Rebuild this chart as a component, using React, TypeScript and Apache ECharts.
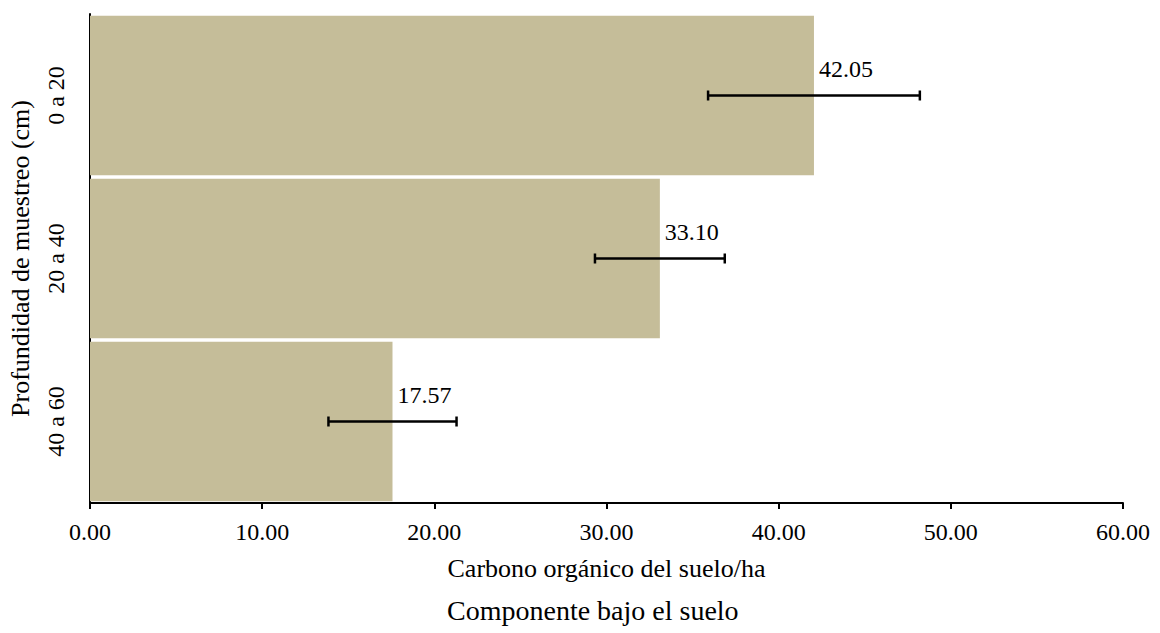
import React, { useEffect, useRef } from "react";
import * as echarts from "echarts";

const categories = ["0 a 20", "20 a 40", "40 a 60"];
const values = [42.05, 33.1, 17.57];
const errors = [6.15, 3.77, 3.72];
const xTicks = { min: 0, max: 60, interval: 10 };

const FONT = "Liberation Serif";
const FS = 24;
const NAME_FS = 26;

export default function App() {
  const ref = useRef<HTMLDivElement>(null);
  useEffect(() => {
    if (!ref.current) return;
    const chart = echarts.init(ref.current, undefined, { renderer: "svg" });
    const errData = values.map((v, i) => [v - errors[i], v + errors[i], i]);
    chart.setOption({
      animation: false,
      textStyle: { fontFamily: FONT },
      grid: {
        left: 90,
        right: 37,
        top: 14,
        bottom: 130,
        containLabel: false,
        outerBoundsMode: "none",
      },
      xAxis: {
        type: "value",
        min: xTicks.min,
        max: xTicks.max,
        interval: xTicks.interval,
        name: "Carbono orgánico del suelo/ha",
        nameLocation: "middle",
        nameGap: 52,
        nameTextStyle: { fontFamily: FONT, fontSize: NAME_FS, color: "#000" },
        axisLine: { show: true, lineStyle: { color: "#000", width: 2 } },
        axisTick: { show: true, length: 6, lineStyle: { color: "#000", width: 2 } },
        axisLabel: {
          fontFamily: FONT,
          fontSize: FS,
          color: "#000",
          margin: 17,
          formatter: (v: number) => v.toFixed(2),
        },
        splitLine: { show: false },
      },
      yAxis: {
        type: "category",
        data: categories,
        inverse: true,
        name: "Profundidad de muestreo (cm)",
        nameLocation: "middle",
        nameGap: 57,
        nameRotate: 90,
        nameTextStyle: { fontFamily: FONT, fontSize: NAME_FS, color: "#000" },
        axisLine: { show: true, lineStyle: { color: "#000", width: 2 } },
        axisTick: { show: false },
        axisLabel: {
          rotate: 90,
          fontFamily: FONT,
          fontSize: FS,
          color: "#000",
          margin: 34,
          verticalAlign: "middle",
        },
      },
      graphic: [
        {
          type: "text",
          left: 447,
          top: 596,
          style: {
            text: "Componente bajo el suelo",
            fontFamily: FONT,
            fontSize: 28,
            fill: "#000",
          },
        },
      ],
      series: [
        {
          type: "bar",
          data: values,
          barCategoryGap: "2%",
          itemStyle: { color: "#C5BD99" },
          label: {
            show: true,
            position: "right",
            distance: 5,
            offset: [0, -27],
            fontFamily: FONT,
            fontSize: FS,
            color: "#000",
            formatter: (p: any) => Number(p.value).toFixed(2),
          },
          z: 2,
        },
        {
          type: "custom",
          data: errData,
          z: 5,
          renderItem: (params: any, api: any) => {
            const lo = api.coord([api.value(0), api.value(2)]);
            const hi = api.coord([api.value(1), api.value(2)]);
            const y = lo[1];
            const cap = 5;
            const style = { stroke: "#000", lineWidth: 2.5 };
            return {
              type: "group",
              children: [
                { type: "line", shape: { x1: lo[0], y1: y, x2: hi[0], y2: y }, style },
                { type: "line", shape: { x1: lo[0], y1: y - cap, x2: lo[0], y2: y + cap }, style },
                { type: "line", shape: { x1: hi[0], y1: y - cap, x2: hi[0], y2: y + cap }, style },
              ],
            };
          },
        },
      ],
    });
    return () => chart.dispose();
  }, []);
  return (
    <div
      ref={ref}
      style={{ position: "absolute", left: 0, top: 0, width: 1160, height: 633, background: "#fff" }}
    />
  );
}
